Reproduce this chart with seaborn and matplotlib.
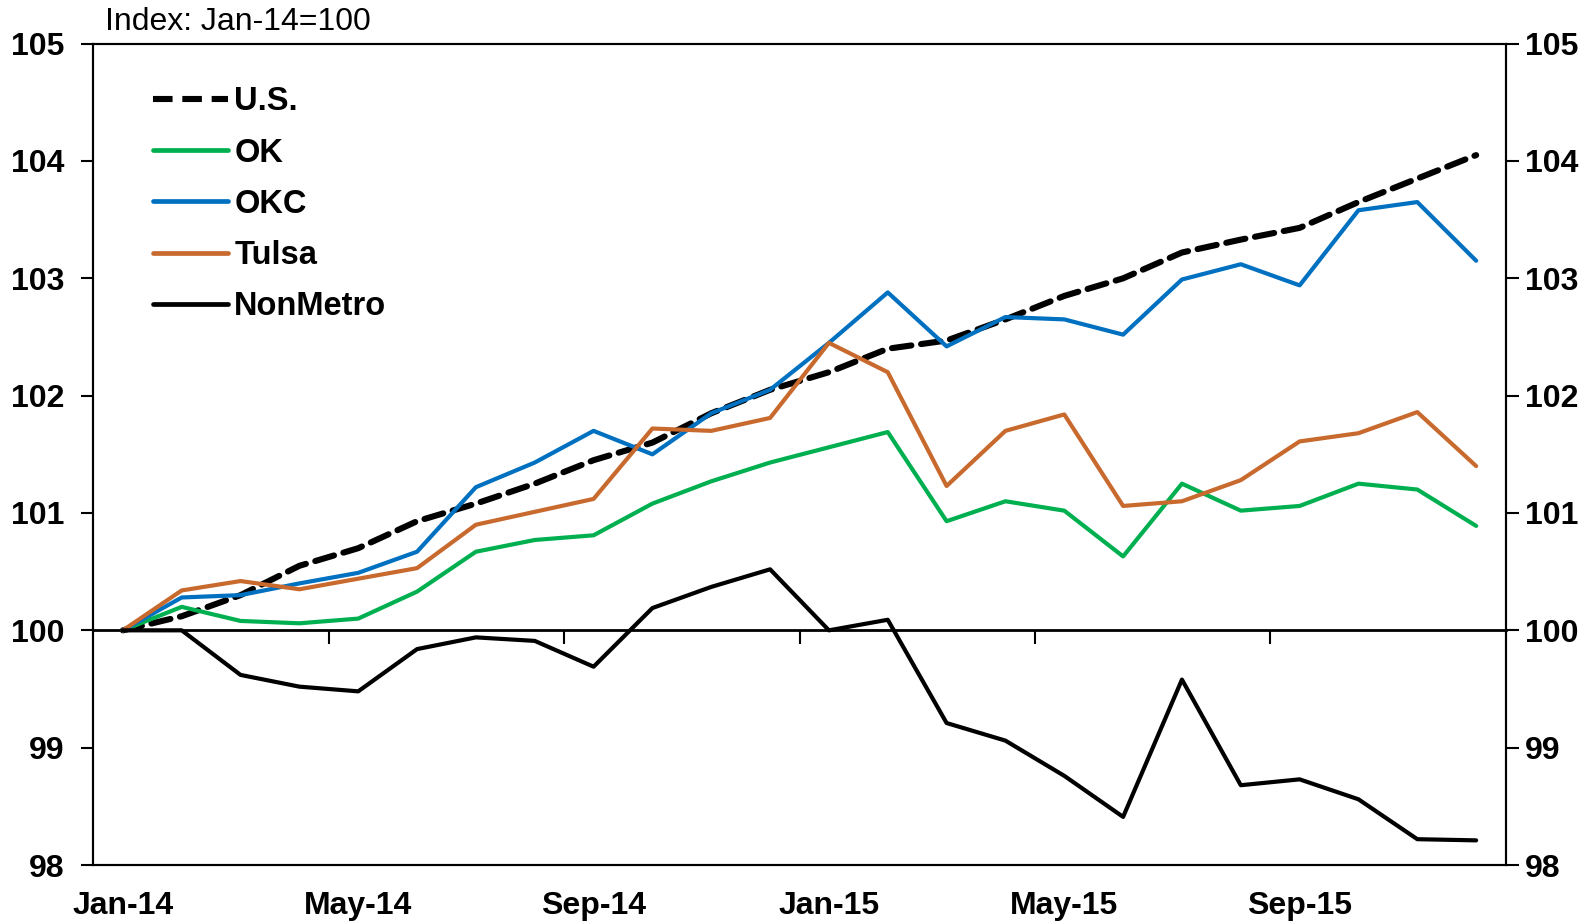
import matplotlib
matplotlib.use("Agg")
import matplotlib.pyplot as plt
import numpy as np
import pandas as pd
import seaborn as sns

months = pd.date_range("2014-01-01", "2015-12-01", freq="MS")
tick_labels = ["Jan-14", "May-14", "Sep-14", "Jan-15", "May-15", "Sep-15"]

us = [100.0, 100.12, 100.3, 100.55, 100.7, 100.93, 101.08, 101.25, 101.45, 101.6, 101.85, 102.05,
      102.2, 102.4, 102.47, 102.65, 102.85, 103.0, 103.22, 103.33, 103.43, 103.65, 103.85, 104.05]
ok = [100.0, 100.2, 100.08, 100.06, 100.1, 100.33, 100.67, 100.77, 100.81, 101.08, 101.27, 101.43,
      101.56, 101.69, 100.93, 101.1, 101.02, 100.63, 101.25, 101.02, 101.06, 101.25, 101.2, 100.89]
okc = [100.0, 100.28, 100.3, 100.4, 100.49, 100.67, 101.22, 101.43, 101.7, 101.5, 101.85, 102.05,
       102.45, 102.88, 102.42, 102.67, 102.65, 102.52, 102.99, 103.12, 102.94, 103.58, 103.65, 103.15]
tulsa = [100.0, 100.34, 100.42, 100.35, 100.44, 100.53, 100.9, 101.01, 101.12, 101.72, 101.7, 101.81,
         102.45, 102.2, 101.23, 101.7, 101.84, 101.06, 101.1, 101.28, 101.61, 101.68, 101.86, 101.4]
nonmetro = [100.0, 100.0, 99.62, 99.52, 99.48, 99.84, 99.94, 99.91, 99.69, 100.19, 100.37, 100.52,
            100.0, 100.09, 99.21, 99.06, 98.76, 98.41, 99.58, 98.68, 98.73, 98.56, 98.22, 98.21]

series = {"U.S.": us, "OK": ok, "OKC": okc, "Tulsa": tulsa, "NonMetro": nonmetro}
colors = {"U.S.": "black", "OK": "#00B050", "OKC": "#0070C0", "Tulsa": "#C8692E", "NonMetro": "black"}

df = pd.DataFrame(series)
df["idx"] = np.arange(len(months))
long = df.melt(id_vars="idx", var_name="series", value_name="value")

sns.set_style("white")
plt.rcParams["font.family"] = ["Liberation Sans", "DejaVu Sans"]
plt.rcParams["font.weight"] = "bold"
plt.rcParams["text.color"] = "black"
plt.rcParams["xtick.color"] = "black"
plt.rcParams["ytick.color"] = "black"

fig = plt.figure(figsize=(15.92, 9.21), dpi=100)
ax = fig.add_axes([0.0587, 0.0608, 0.887, 0.8918])

sns.lineplot(data=long, x="idx", y="value", hue="series", style="series",
             palette=colors, dashes={"U.S.": (3.2, 1.6), "OK": "", "OKC": "", "Tulsa": "", "NonMetro": ""},
             hue_order=list(series), style_order=list(series), ax=ax, linewidth=3.0)
us_line = ax.get_lines()[0]
us_line.set_linewidth(4.4)
us_line.set_dash_capstyle("round")

ax.set_xlim(-0.5, 23.5)
ax.set_ylim(98, 105)
ax.set_xlabel("")
ax.set_ylabel("")
ax.set_xticks([0, 4, 8, 12, 16, 20])
ax.set_xticklabels(tick_labels)
ax.tick_params(axis="x", length=0, pad=19, labelsize=23)
ax.set_yticks(range(98, 106))
ax.tick_params(axis="y", direction="out", length=9, width=1.5, pad=12, labelsize=23, left=True)
for s in ax.spines.values():
    s.set_color("black")
    s.set_linewidth(1.5)

ax2 = ax.twinx()
ax2.set_ylim(98, 105)
ax2.set_yticks(range(98, 106))
ax2.tick_params(axis="y", direction="out", length=9, width=1.5, pad=5, labelsize=23, right=True)
for s in ax2.spines.values():
    s.set_linewidth(1.5)
    s.set_color("black")

# axis line at 100 with ticks between category groups
sec = ax.secondary_xaxis(2 / 7)
sec.set_xticks([3.5, 7.5, 11.5, 15.5, 19.5])
sec.set_xticklabels([])
sec.tick_params(axis="x", direction="out", length=10, width=1.5, color="black")
sec.spines["bottom"].set_linewidth(2)
sec.spines["bottom"].set_color("black")

handles, labels = ax.get_legend_handles_labels()
leg = ax.legend(handles, labels, loc="upper left", bbox_to_anchor=(0.042, 0.948), frameon=False,
                fontsize=23.5, handlelength=2.3, handletextpad=0.2, labelspacing=0.62,
                borderpad=0, borderaxespad=0)
for h in leg.get_lines():
    h.set_linewidth(4.4 if h.get_label() == "U.S." else 3.4)

fig.text(0.066, 0.992, "Index: Jan-14=100", fontsize=23, fontweight="normal", va="top", ha="left")

fig.savefig("out.png", dpi=100)
